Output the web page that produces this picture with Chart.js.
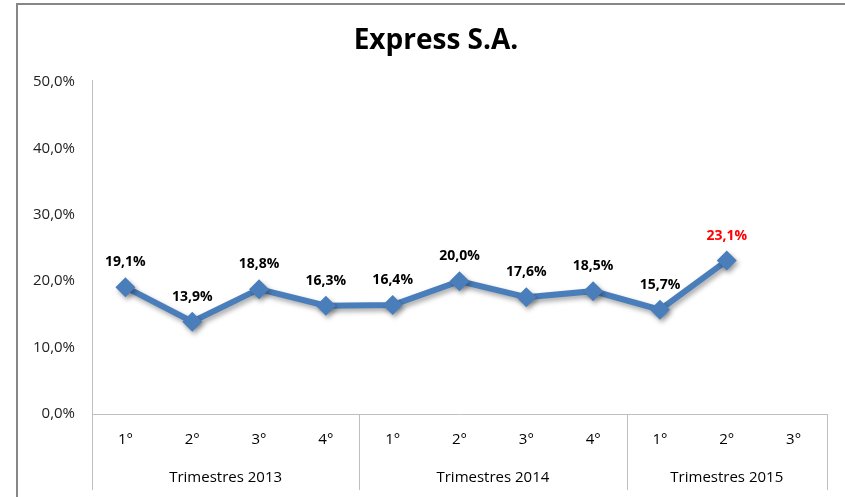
<!DOCTYPE html>
<html>
<head>
<meta charset="utf-8">
<script src="https://cdn.jsdelivr.net/npm/chart.js@4"></script>
<style>
  html, body { margin: 0; padding: 0; background: #fff; }
  #wrap { width: 845px; height: 497px; }
</style>
</head>
<body>
<div id="wrap"><canvas id="line-chart" width="845" height="497"></canvas></div>
<script>
// quarter labels and groups
var quarters = ["1°", "2°", "3°", "4°", "1°", "2°", "3°", "4°", "1°", "2°", "3°"];
var groups = ["Trimestres 2013", "Trimestres 2014", "Trimestres 2015"];
var groupSizes = [4, 4, 3];
// percent values per quarter (null = no data yet)
var values = [19.1, 13.9, 18.8, 16.3, 16.4, 20.0, 17.6, 18.5, 15.7, 23.1, null];
var labelColors = ["#000", "#000", "#000", "#000", "#000", "#000", "#000", "#000", "#000", "#ff0000", "#000"];
var chartTitle = "Express S.A.";

function pct(v) {
  return v.toFixed(1).replace(".", ",") + "%";
}

var lineGray = "#bfbfbf";
var font = "'Open Sans', 'Noto Sans', sans-serif";

var decor = {
  id: "decor",
  beforeDraw: function(chart) {
    var ctx = chart.ctx;
    ctx.save();
    ctx.fillStyle = "#fff";
    ctx.fillRect(0, 0, chart.width, chart.height);
    // outer frame of the chart
    ctx.strokeStyle = "#878787";
    ctx.lineWidth = 2;
    ctx.beginPath();
    ctx.moveTo(17, chart.height);
    ctx.lineTo(17, 4);
    ctx.lineTo(chart.width, 4);
    ctx.stroke();
    // title (centered on the whole frame, which runs past the right edge)
    ctx.font = "bold 28px " + font;
    ctx.fillStyle = "#000";
    ctx.textAlign = "center";
    ctx.textBaseline = "middle";
    ctx.fillText(chartTitle, 436, 41);
    ctx.restore();
  },
  beforeDatasetsDraw: function(chart) {
    var ctx = chart.ctx;
    var a = chart.chartArea;
    var cw = (a.right - a.left) / quarters.length;
    ctx.save();
    ctx.strokeStyle = lineGray;
    ctx.lineWidth = 1;
    ctx.beginPath();
    ctx.moveTo(a.left + 0.5, a.top - 2);
    ctx.lineTo(a.left + 0.5, 490);
    ctx.moveTo(a.left, a.bottom + 0.5);
    ctx.lineTo(a.right, a.bottom + 0.5);
    var idx = 0;
    ctx.font = "15px " + font;
    ctx.fillStyle = "#000";
    ctx.textAlign = "center";
    ctx.textBaseline = "middle";
    for (var g = 0; g < groups.length; g++) {
      var start = a.left + idx * cw;
      idx += groupSizes[g];
      var end = a.left + idx * cw;
      var ex = Math.round(end) + 0.5;
      ctx.moveTo(ex, a.bottom);
      ctx.lineTo(ex, 490);
      ctx.fillText(groups[g], (start + end) / 2, 478);
    }
    ctx.stroke();
    ctx.restore();
  },
  beforeDatasetDraw: function(chart) {
    var ctx = chart.ctx;
    ctx.save();
    ctx.shadowColor = "rgba(0,0,0,0.35)";
    ctx.shadowBlur = 5;
    ctx.shadowOffsetX = 2;
    ctx.shadowOffsetY = 3;
  },
  afterDatasetDraw: function(chart) {
    chart.ctx.restore();
  },
  afterDatasetsDraw: function(chart) {
    var ctx = chart.ctx;
    var meta = chart.getDatasetMeta(0);
    ctx.save();
    ctx.font = "bold 14px " + font;
    ctx.textAlign = "center";
    ctx.textBaseline = "middle";
    meta.data.forEach(function(pt, i) {
      if (values[i] == null) return;
      ctx.fillStyle = labelColors[i];
      ctx.fillText(pct(values[i]), pt.x, pt.y - 25);
    });
    ctx.restore();
  }
};

new Chart(document.getElementById("line-chart"), {
  type: "line",
  data: {
    labels: quarters,
    datasets: [{
      data: values,
      borderColor: "#4a7ebb",
      backgroundColor: "#4a7ebb",
      borderWidth: 6,
      pointStyle: "rectRot",
      pointRadius: 10,
      pointHoverRadius: 10,
      pointBorderWidth: 0,
      fill: false,
      tension: 0
    }]
  },
  options: {
    responsive: false,
    animation: false,
    layout: { padding: { left: 0, right: 18, top: 82, bottom: 0 } },
    plugins: {
      legend: { display: false },
      tooltip: { enabled: false },
      title: { display: false }
    },
    scales: {
      x: {
        offset: true,
        grid: { display: false, drawTicks: false },
        border: { display: false },
        ticks: { color: "#000", font: { family: font, size: 15 }, padding: 17, maxRotation: 0, autoSkip: false },
        afterFit: function(s) { s.height = 83; }
      },
      y: {
        min: 0,
        max: 50,
        grid: { display: false, drawTicks: false },
        border: { display: false },
        ticks: {
          stepSize: 10,
          color: "#222",
          font: { family: font, size: 15 },
          padding: 17,
          callback: function(v) { return pct(v); }
        },
        afterFit: function(s) { s.width = 92; }
      }
    }
  },
  plugins: [decor]
});
</script>
</body>
</html>
